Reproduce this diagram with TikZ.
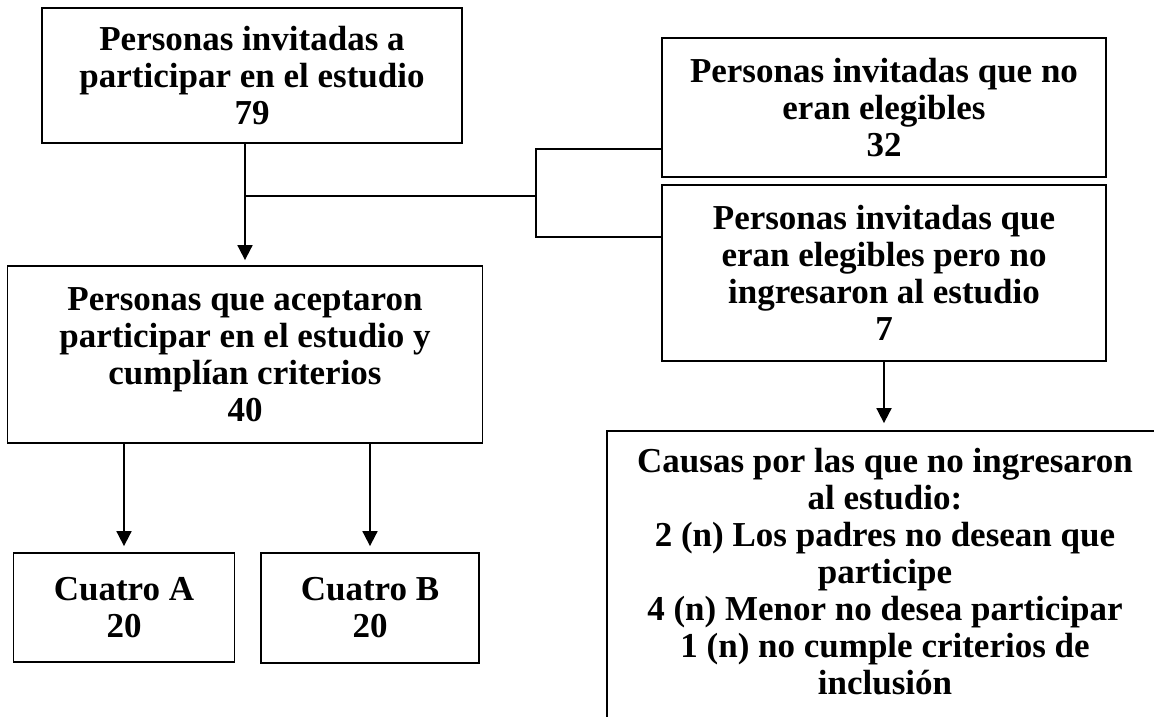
\documentclass[tikz,border=0pt]{standalone}
\usepackage{fontspec}
\setmainfont{Liberation Serif}
\usetikzlibrary{arrows.meta,calc}
\begin{document}
\begin{tikzpicture}[x=1pt,y=-1pt,
  box/.style={draw, line width=1.8pt, align=center, inner sep=0pt,
    font=\bfseries\fontsize{35}{37}\selectfont},
  ln/.style={line width=1.8pt},
  arr/.style={line width=1.8pt, -{Triangle[width=15pt,length=15pt]}}]
\useasboundingbox (0,0) rectangle (1154,717);
\clip (0,0) rectangle (1154,717);
\node[box, minimum width=420pt, minimum height=135pt] (b1) at (252,75.5)
  {Personas invitadas a\\participar en el estudio\\79};
\node[box, minimum width=475pt, minimum height=177pt] (b2) at (245,354.5)
  {Personas que aceptaron\\participar en el estudio y\\cumplían criterios\\40};
\node[box, minimum width=444pt, minimum height=139pt] (b3) at (884,107.5)
  {Personas invitadas que no\\eran elegibles\\32};
\node[box, minimum width=444pt, minimum height=176pt] (b4) at (884,273)
  {Personas invitadas que\\eran elegibles pero no\\ingresaron al estudio\\7};
\node[box, minimum width=221pt, minimum height=109pt] (bA) at (124,607.5)
  {Cuatro A\\20};
\node[box, minimum width=218pt, minimum height=110pt] (bB) at (370,608)
  {Cuatro B\\20};
\node[box, draw=none, minimum width=554pt, minimum height=279pt] (b5) at (885,571.5)
  {Causas por las que no ingresaron\\al estudio:\\2 (n) Los padres no desean que\\participe\\4 (n) Menor no desea participar\\1 (n) no cumple criterios de\\inclusión};
\draw[ln] (b5.north west) rectangle ($(b5.south east)+(0,60)$);
% connectors
\draw[arr, shorten >=5pt] (b2.north |- b1.south) -- (b2.north);
\coordinate (j) at (b2.north |- 0,196);
\coordinate (k) at (536,196);
\draw[ln] (j) -- (k);
\draw[ln] (b3.west |- 0,149) -| (k) |- (b4.west |- 0,237);
\draw[arr, shorten >=6pt] (bA.north |- b2.south) -- (bA.north);
\draw[arr, shorten >=6pt] (bB.north |- b2.south) -- (bB.north);
\draw[arr, shorten >=8pt] (b4.south) -- (b4.south |- b5.north);
\end{tikzpicture}
\end{document}
